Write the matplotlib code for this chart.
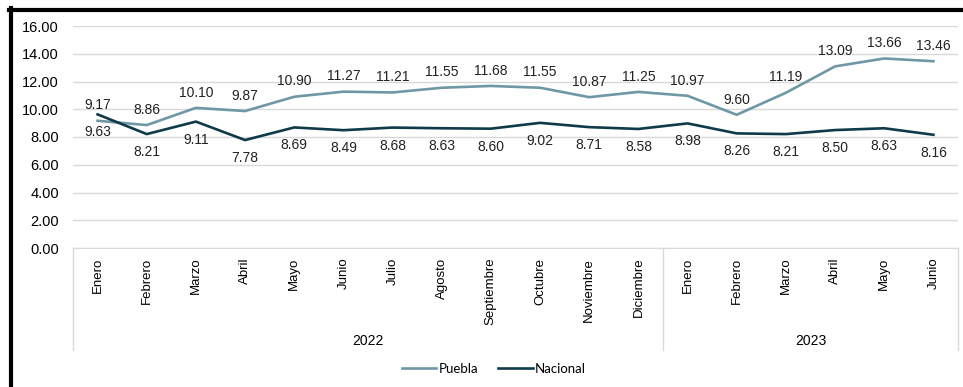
import numpy as np
import matplotlib
matplotlib.use("Agg")
from matplotlib import pyplot as plt
from matplotlib.lines import Line2D

# monthly values
meses = ["Enero", "Febrero", "Marzo", "Abril", "Mayo", "Junio", "Julio", "Agosto",
         "Septiembre", "Octubre", "Noviembre", "Diciembre",
         "Enero", "Febrero", "Marzo", "Abril", "Mayo", "Junio"]
anios = ["2022", "2023"]
meses_por_anio = [12, 6]
puebla = [9.17, 8.86, 10.10, 9.87, 10.90, 11.27, 11.21, 11.55, 11.68, 11.55, 10.87, 11.25,
          10.97, 9.60, 11.19, 13.09, 13.66, 13.46]
nacional = [9.63, 8.21, 9.11, 7.78, 8.69, 8.49, 8.68, 8.63, 8.60, 9.02, 8.71, 8.58,
            8.98, 8.26, 8.21, 8.50, 8.63, 8.16]

plt.rcParams['font.family'] = ['Liberation Sans', 'DejaVu Sans']

fig = plt.figure(figsize=(9.63, 3.87), dpi=100)
W, H = 963, 387
ax = fig.add_axes([73 / W, (H - 248) / H, (958 - 73) / W, 222 / H])

x = np.arange(len(meses))
c_pue = '#6f97a6'
c_nac = '#0f3a4a'
ax.plot(x, puebla, color=c_pue, lw=1.9, label='Puebla')
ax.plot(x, nacional, color=c_nac, lw=1.9, label='Nacional')

for xi, v in zip(x, puebla):
    ax.annotate(f"{v:.2f}", (xi, v), xytext=(0, 11), textcoords='offset points',
                ha='center', va='center', fontsize=10, color='#222222')
for xi, v in zip(x, nacional):
    ax.annotate(f"{v:.2f}", (xi, v), xytext=(0, -13), textcoords='offset points',
                ha='center', va='center', fontsize=10, color='#222222')

ax.set_xlim(-0.5, len(meses) - 0.5)
ax.set_ylim(0, 16)
ax.set_yticks(np.arange(0, 17, 2))
ax.set_yticklabels([f"{t:.2f}" for t in np.arange(0, 17, 2)], fontsize=10.5)
ax.grid(axis='y', color='#d9d9d9', lw=1)
ax.set_axisbelow(True)
for s in ['top', 'right', 'left']:
    ax.spines[s].set_visible(False)
ax.spines['bottom'].set_color('#d9d9d9')
ax.tick_params(axis='y', length=0, pad=10)
ax.set_xticks(x)
ax.set_xticklabels(meses, rotation=90, fontsize=9.5, va='top')
ax.tick_params(axis='x', length=0, pad=7)

# year grouping on category axis
tr = ax.get_xaxis_transform()
pos = -0.5
ax.plot([pos, pos], [0, -0.46], transform=tr, color='#d9d9d9', lw=1, clip_on=False)
for anio, n in zip(anios, meses_por_anio):
    ax.text(pos + n / 2, -0.42, anio, transform=tr, ha='center', va='center', fontsize=10)
    pos += n
    ax.plot([pos, pos], [0, -0.46], transform=tr, color='#d9d9d9', lw=1, clip_on=False)

leg = fig.legend(loc='center', bbox_to_anchor=(494 / W, (H - 369) / H), ncol=2, frameon=False,
                 handlelength=2.6, handletextpad=0.2, columnspacing=1.5,
                 prop={'family': ['Lato', 'DejaVu Sans'], 'size': 9.5})

# black frame on top and left
fig.add_artist(Line2D([11 / W, 11 / W], [0, (H - 8) / H], color='black', lw=3))
fig.add_artist(Line2D([9 / W, 1], [(H - 10) / H, (H - 10) / H], color='black', lw=3))

fig.savefig("out.png", dpi=100)
